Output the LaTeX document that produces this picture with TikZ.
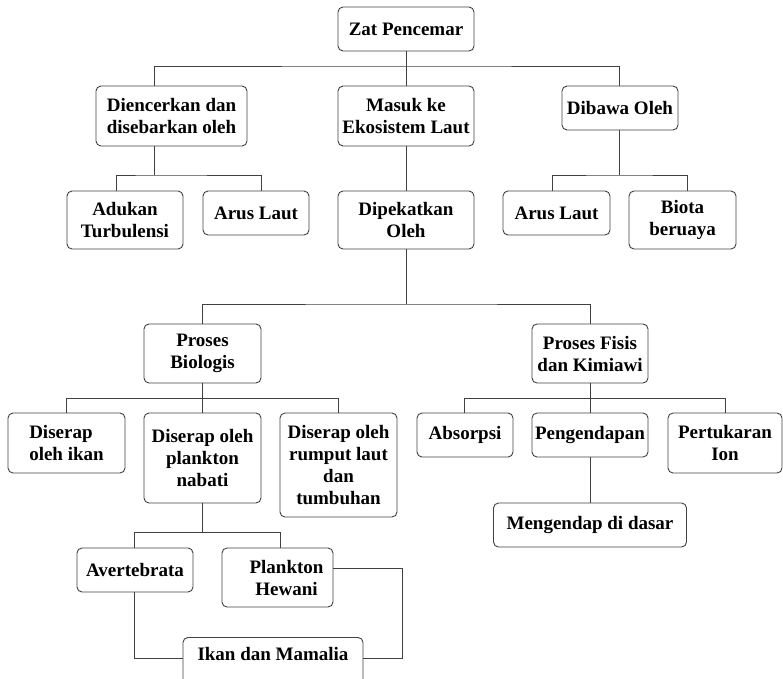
\documentclass[tikz,border=0pt]{standalone}
\usepackage{fontspec}
\setmainfont{Liberation Serif}
\begin{document}
\begin{tikzpicture}[x=1pt,y=1pt]
\tikzstyle{box}=[draw=black!75, line width=0.9pt, rounded corners=5pt, align=center, inner sep=0pt, font=\bfseries\fontsize{19}{22}\selectfont]
\tikzstyle{link}=[draw=black!75, line width=0.9pt]
\clip (0,0) rectangle (783,-678);
\node [box, minimum width=136pt, minimum height=44pt] (zat) at (406,-29) {Zat Pencemar};
\node [box, minimum width=151pt, minimum height=60pt] (dien) at (171.5,-116) {Diencerkan dan\\disebarkan oleh};
\node [box, minimum width=136pt, minimum height=60pt] (masuk) at (406,-116) {Masuk ke\\Ekosistem Laut};
\node [box, minimum width=116pt, minimum height=44pt] (dibawa) at (620,-108) {Dibawa Oleh};
\node [box, minimum width=116pt, minimum height=58pt] (aduk) at (125,-220) {Adukan\\Turbulensi};
\node [box, minimum width=106pt, minimum height=44pt] (arusa) at (256,-213) {Arus Laut};
\node [box, minimum width=136pt, minimum height=58pt] (pekat) at (406,-220) {Dipekatkan\\Oleh};
\node [box, minimum width=107pt, minimum height=44pt] (arusb) at (556.5,-213) {Arus Laut};
\node [box, minimum width=107pt, minimum height=58pt] (biota) at (682.5,-220) {Biota\\beruaya};
\node [box, minimum width=117pt, minimum height=59pt] (bio) at (202.5,-353.5) {Proses\\Biologis};
\node [box, minimum width=116pt, minimum height=59pt] (fisis) at (590,-353.5) {Proses Fisis\\dan Kimiawi};
\node [box, align=left, minimum width=117pt, minimum height=60pt] (ikan) at (66.5,-443) {Diserap\\oleh ikan};
\node [box, minimum width=117pt, minimum height=90pt] (nabati) at (202.5,-458) {Diserap oleh\\plankton\\nabati};
\node [box, minimum width=117pt, minimum height=104pt] (rumput) at (338.5,-465) {Diserap oleh\\rumput laut\\dan\\tumbuhan};
\node [box, minimum width=96pt, minimum height=44pt] (absorp) at (465,-435) {Absorpsi};
\node [box, minimum width=116pt, minimum height=44pt] (endap) at (590,-435) {Pengendapan};
\node [box, minimum width=114pt, minimum height=60pt] (tukar) at (725,-443) {Pertukaran\\Ion};
\node [box, minimum width=193pt, minimum height=44pt] (dasar) at (590,-525) {Mengendap di dasar};
\node [box, minimum width=116pt, minimum height=44pt] (avert) at (135,-570) {Avertebrata};
\node [box, minimum width=111pt, minimum height=59pt] (hewani) at (277.5,-577.5) {\hspace*{18pt}Plankton\\\hspace*{18pt}Hewani};
\node [box, anchor=north, minimum width=180pt, text height=23pt, text depth=30pt] (mamal) at (273,-637) {Ikan dan Mamalia};
\coordinate (b1) at (406,-66);
\coordinate (b2) at (154,-175);
\coordinate (b3) at (619,-175);
\coordinate (b4) at (406,-304);
\coordinate (b5) at (202.5,-398);
\coordinate (b6) at (590,-398);
\coordinate (b7) at (202.5,-532);
\coordinate (b8) at (402,-568);
\draw [link] (zat) -- (masuk);
\draw [link] ([xshift=-17.5pt]dien.north) |- (b1) -| ([xshift=-1pt]dibawa.north);
\draw [link] ([xshift=-17.5pt]dien.south) -- (b2);
\draw [link] ([xshift=-9pt]aduk.north) |- (b2) -| ([xshift=5pt]arusa.north);
\draw [link] ([xshift=-1pt]dibawa.south) -- (b3);
\draw [link] ([xshift=-4.5pt]arusb.north) |- (b3) -| ([xshift=4.5pt]biota.north);
\draw [link] (masuk) -- (pekat);
\draw [link] (pekat) -- (b4);
\draw [link] (bio.north) |- (b4) -| (fisis.north);
\draw [link] (bio) -- (b5);
\draw [link] (ikan.north) |- (b5) -| (rumput.north);
\draw [link] (b5) -- (nabati);
\draw [link] (fisis) -- (b6);
\draw [link] ([xshift=-1pt]absorp.north) |- (b6) -| (tukar.north);
\draw [link] (b6) -- (endap);
\draw [link] (endap) -- (dasar);
\draw [link] (nabati) -- (b7);
\draw [link] ([xshift=-1pt]avert.north) |- (b7) -| ([xshift=2.5pt]hewani.north);
\draw [link] ([xshift=-1pt]avert.south) |- (mamal.mid west);
\draw [link] ([yshift=9.5pt]hewani.east) -- (b8) |- (mamal.mid east);
\end{tikzpicture}
\end{document}
